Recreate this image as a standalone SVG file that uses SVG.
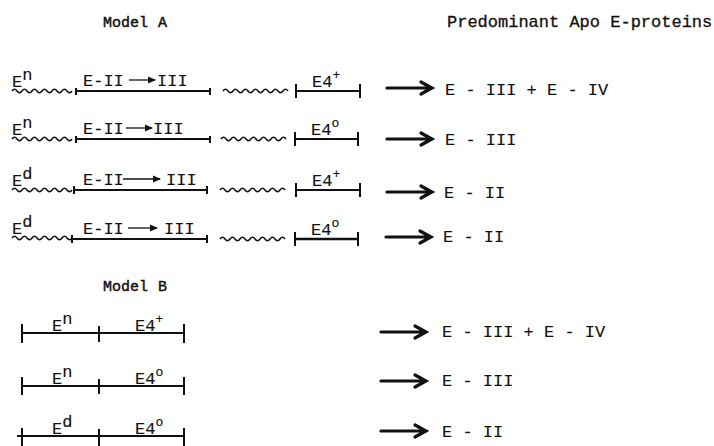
<svg xmlns="http://www.w3.org/2000/svg" width="714" height="446" viewBox="0 0 714 446">
<style>
text{font-family:"Liberation Mono","Courier New",monospace;font-size:17px;fill:#111;stroke:#111;stroke-width:0.15}
.hd{font-size:15px;stroke-width:0.45}
.ph{stroke-width:0.3}
.sup{font-size:13px}
.seg{stroke:#111;stroke-width:2.2;fill:none}
.tk{stroke:#111;stroke-width:2;fill:none}
.wv{stroke:#111;stroke-width:1.5;fill:none}
.big{stroke:#111;stroke-width:3.2;fill:none;stroke-linecap:round;stroke-linejoin:miter}
.thin{stroke:#111;stroke-width:1.3;fill:none}
</style>
<defs>
<marker id="ah" markerWidth="8" markerHeight="8" refX="7" refY="4" orient="auto" markerUnits="userSpaceOnUse">
<path d="M0 0.5 L8 4 L0 7.5 Z" fill="#111"/>
</marker>
<path id="wav60" d="M0 0 q2.5 -3.6 5 0 t5 0 t5 0 t5 0 t5 0 t5 0 t5 0 t5 0 t5 0 t5 0 t5 0 t5 0"/>
<path id="wav65" d="M0 0 q2.5 -3.6 5 0 t5 0 t5 0 t5 0 t5 0 t5 0 t5 0 t5 0 t5 0 t5 0 t5 0 t5 0 t5 0"/>
<path id="bigarrow" d="M0 0 L44 0 M34 -6 L45 0 L34 6"/>
</defs>

<g id="headers">
<text class="hd" x="103" y="27">Model<tspan x="158">A</tspan></text>
<text class="ph" x="447" y="27">Predominant Apo E-proteins</text>
<text class="hd" x="103" y="291">Model<tspan x="158">B</tspan></text>
</g>

<g id="a1">
<text x="12" y="87">E<tspan dy="-7">n</tspan></text>
<use href="#wav60" class="wv" x="12" y="91"/>
<line class="seg" x1="76" y1="91" x2="210" y2="91"/>
<line class="tk" x1="76" y1="88" x2="76" y2="95"/>
<line class="tk" x1="210" y1="88" x2="210" y2="95"/>
<text x="83" y="86">E-II</text>
<line class="thin" x1="129" y1="80" x2="155" y2="80" marker-end="url(#ah)"/>
<text x="157" y="86">III</text>
<use href="#wav65" class="wv" x="223" y="91"/>
<line class="seg" x1="296" y1="91" x2="360" y2="91"/>
<line class="tk" x1="296" y1="84" x2="296" y2="98"/>
<line class="tk" x1="360" y1="84" x2="360" y2="98"/>
<text x="312" y="87">E4<tspan class="sup" dy="-8">+</tspan></text>
</g>
<g id="a2">
<text x="12" y="135">E<tspan dy="-7">n</tspan></text>
<use href="#wav60" class="wv" x="12" y="139"/>
<line class="seg" x1="76" y1="139" x2="210" y2="139"/>
<line class="tk" x1="76" y1="136" x2="76" y2="143"/>
<line class="tk" x1="210" y1="136" x2="210" y2="143"/>
<text x="83" y="134">E-II</text>
<line class="thin" x1="126" y1="128" x2="152" y2="128" marker-end="url(#ah)"/>
<text x="153" y="134">III</text>
<use href="#wav65" class="wv" x="221" y="139"/>
<line class="seg" x1="295" y1="139" x2="358" y2="139"/>
<line class="tk" x1="295" y1="132" x2="295" y2="146"/>
<line class="tk" x1="358" y1="132" x2="358" y2="146"/>
<text x="311" y="135">E4<tspan class="sup" dy="-8">o</tspan></text>
</g>
<g id="a3">
<text x="12" y="186">E<tspan dy="-7">d</tspan></text>
<use href="#wav60" class="wv" x="12" y="190"/>
<line class="seg" x1="74" y1="190" x2="207" y2="190" style="stroke-width:1.8"/>
<line class="tk" x1="74" y1="186" x2="74" y2="194"/>
<line class="tk" x1="207" y1="186" x2="207" y2="194"/>
<text x="83" y="185">E-II</text>
<line class="thin" x1="123" y1="179" x2="160" y2="179" marker-end="url(#ah)"/>
<text x="166" y="185">III</text>
<use href="#wav65" class="wv" x="220" y="190"/>
<line class="seg" x1="296" y1="190" x2="360" y2="190" style="stroke-width:1.8"/>
<line class="tk" x1="296" y1="183" x2="296" y2="197"/>
<line class="tk" x1="360" y1="183" x2="360" y2="197"/>
<text x="312" y="186">E4<tspan class="sup" dy="-8">+</tspan></text>
</g>
<g id="a4">
<text x="12" y="234">E<tspan dy="-7">d</tspan></text>
<use href="#wav60" class="wv" x="12" y="238"/>
<line class="seg" x1="72" y1="239" x2="207" y2="239" style="stroke-width:1.8"/>
<line class="tk" x1="72" y1="235" x2="72" y2="243"/>
<line class="tk" x1="207" y1="235" x2="207" y2="243"/>
<text x="83" y="234">E-II</text>
<line class="thin" x1="128" y1="228" x2="157" y2="228" marker-end="url(#ah)"/>
<text x="164" y="234">III</text>
<use href="#wav65" class="wv" x="220" y="239"/>
<line class="seg" x1="295" y1="239" x2="358" y2="239" style="stroke-width:2.6"/>
<line class="tk" x1="295" y1="232" x2="295" y2="246"/>
<line class="tk" x1="358" y1="232" x2="358" y2="246"/>
<text x="311" y="235">E4<tspan class="sup" dy="-8">o</tspan></text>
</g>

<g id="b1">
<line class="seg" x1="22" y1="333" x2="184" y2="333"/>
<line class="tk" x1="22" y1="324" x2="22" y2="343"/>
<line class="tk" x1="99" y1="326" x2="99" y2="342"/>
<line class="tk" x1="184" y1="324" x2="184" y2="343"/>
<text x="52" y="331">E<tspan dy="-7">n</tspan></text>
<text x="135" y="331">E4<tspan class="sup" dy="-8">+</tspan></text>
</g>
<g id="b2">
<line class="seg" x1="22" y1="386" x2="184" y2="386"/>
<line class="tk" x1="22" y1="377" x2="22" y2="395"/>
<line class="tk" x1="99" y1="379" x2="99" y2="394"/>
<line class="tk" x1="184" y1="377" x2="184" y2="395"/>
<text x="52" y="384">E<tspan dy="-7">n</tspan></text>
<text x="135" y="384">E4<tspan class="sup" dy="-8">o</tspan></text>
</g>
<g id="b3">
<line class="seg" x1="17" y1="436" x2="184" y2="436"/>
<line class="tk" x1="22" y1="428" x2="22" y2="446"/>
<line class="tk" x1="99" y1="429" x2="99" y2="446"/>
<line class="tk" x1="184" y1="428" x2="184" y2="446"/>
<text x="52" y="434">E<tspan dy="-7">d</tspan></text>
<text x="135" y="434">E4<tspan class="sup" dy="-8">o</tspan></text>
</g>

<g id="connectors">
<use href="#bigarrow" class="big" x="387" y="88"/>
<use href="#bigarrow" class="big" x="387" y="139"/>
<use href="#bigarrow" class="big" x="387" y="192"/>
<use href="#bigarrow" class="big" x="386" y="237"/>
<use href="#bigarrow" class="big" x="381" y="332"/>
<use href="#bigarrow" class="big" x="381" y="381"/>
<use href="#bigarrow" class="big" x="381" y="431"/>
</g>

<g id="results">
<text x="445" y="95">E - III + E - IV</text>
<text x="445" y="145">E - III</text>
<text x="444" y="198">E - II</text>
<text x="443" y="242">E - II</text>
<text x="442" y="337">E - III + E - IV</text>
<text x="442" y="386">E - III</text>
<text x="442" y="437">E - II</text>
</g>
</svg>
